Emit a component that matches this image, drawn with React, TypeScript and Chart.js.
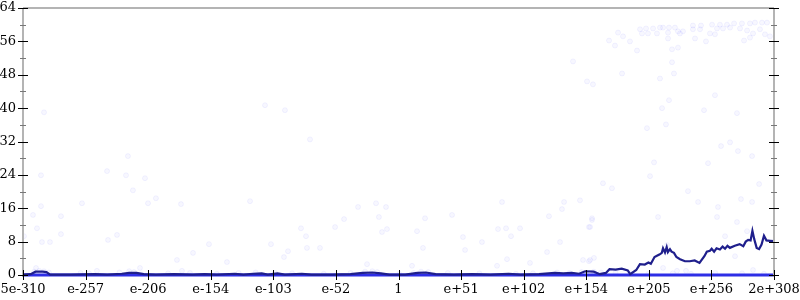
import React, { useEffect, useRef } from "react";
import { Chart, registerables } from "chart.js";

Chart.register(...registerables);

const xTickLabels = ["5e-310", "e-257", "e-206", "e-154", "e-103", "e-52", "1", "e+51", "e+102", "e+154", "e+205", "e+256", "2e+308"];
const X_MIN = -309.3;
const X_MAX = 308.25;
const Y_MIN = 0;
const Y_MAX = 64;

// navy running-average line (x = decimal exponent)
const navyX = [-309.3, -303, -299, -293, -290, -287, -270, -250, -240, -228, -222, -216, -210, -200, -185, -170, -160, -150, -135, -128, -120, -113, -108, -100, -94, -80, -72, -55, -40, -30, -22, -15, -8, 5, 15, 22, 30, 45, 60, 75, 90, 100, 115, 128, 135, 142, 148, 153, 160, 165, 170, 173, 178, 183, 188, 190, 195, 198, 202, 205, 207, 210, 212, 214, 216, 217, 218.6, 220, 221, 222.7, 224, 226, 228, 231, 235, 239, 243, 247, 251, 253, 255.6, 257, 259, 261, 263.8, 266, 268, 270, 272, 276, 280, 283, 285, 287, 289, 290.5, 292, 294, 296, 298, 300, 302, 305, 308.25];
const navyY = [0.1, 0.2, 0.8, 0.8, 0.7, 0.1, 0.1, 0.2, 0.1, 0.3, 0.5, 0.5, 0.2, 0.1, 0.2, 0.1, 0.2, 0.1, 0.3, 0.1, 0.3, 0.4, 0.1, 0.4, 0.1, 0.3, 0.1, 0.1, 0.2, 0.5, 0.6, 0.4, 0.1, 0.1, 0.5, 0.6, 0.2, 0.1, 0.2, 0.1, 0.3, 0.1, 0.2, 0.5, 0.4, 0.5, 0.3, 0.9, 0.8, 0.2, 0.5, 1.4, 1.3, 1.5, 1.1, 0.2, 1.2, 2.6, 2.5, 3.0, 2.7, 4.3, 4.6, 4.9, 5.3, 6.4, 5.4, 6.7, 5.5, 6.2, 5.6, 5.3, 4.3, 3.8, 3.3, 3.3, 3.5, 2.9, 4.5, 5.6, 5.8, 6.3, 5.6, 6.4, 6.1, 6.8, 6.3, 7.0, 6.5, 7.0, 7.4, 6.9, 8.0, 8.4, 8.3, 10.6, 8.6, 6.5, 6.2, 7.3, 9.4, 8.3, 8.2, 8.1];

// blue median line
const blueX = [X_MIN, X_MAX];
const blueY = [0, 0];

// faint individual samples
const sampleX = [180.0, 184.1, 172.6, 177.5, 189.8, 195.6, 198.1, 203.0, 208.8, 214.5, 217.0, 221.9, 226.8, 199.7, 204.6, 212.0, 221.1, 230.9, 229.3, 233.4, 221.1, 241.6, 248.2, 257.3, 263.8, 269.6, 275.4, 281.9, 288.5, 292.6, 298.4, 302.5, 241.6, 247.4, 261.4, 266.3, 272.1, 280.3, 286.1, 291.0, 296.7, 300.8, 304.9, 255.6, 259.7, 243.3, 252.3, 283.6, 288.5, 224.4, 229.3, 224.4, 183.3, 154.5, 159.4, 214.5, 226.0, 259.7, 221.9, 216.2, 250.7, 277.8, 203.8, 219.4, 264.7, 272.1, 143.0, -292.0, -110.3, -93.9, -73.3, 209.6, 254.0, 290.2, 278.6, 206.3, 167.6, 175.0, 237.5, 296.0, 245.8, 281.1, 290.2, 262.2, 212.9, 261.4, 158.6, 156.1, 277.8, 286.1, 268.0, 220.3, 157.0, 160.2, 151.2, 276.2, 217.0, 291.0, 228.5, 235.9, 148.7, -223.0, -240.2, -224.6, -209.0, -294.5, -218.9, -200.0, -206.5, -179.4, -260.8, -294.5, -301.1, -278.1, -297.8, -278.1, -308.5, -293.7, -287.1, -239.4, -232.0, -169.5, -182.7, -298.6, -248.5, -213.1, -178.6, -122.6, -33.8, -19.0, -10.8, -16.6, -45.3, -52.7, -80.7, -76.6, -14.1, -10.0, -156.4, -105.4, -91.4, -75.8, -65.1, -94.7, -141.6, -26.4, 84.6, 135.6, 133.9, 21.3, 123.2, 158.6, 14.7, 81.3, 87.9, 99.4, 92.0, 52.5, 157.0, 68.1, 132.3, 19.6, 54.2, 121.6, 88.7, 156.1, 107.6, 80.5, 10.6, 43.5, -300, -296, -292, -288, -262, -255, -230, -222, -218, -190, -172, -150, -132, -118, -102, -88, -62, -40, -28, -22, -18, 0, 12, 18, 24, 40, 66, 96, 110, 130, 140, 150, 160, 166, 178, 190, 205, 225, 240, 260, 282, 300];
const sampleY = [58.1, 57.2, 56.2, 55.0, 56.0, 53.8, 58.9, 59.1, 59.1, 59.3, 59.3, 59.3, 59.3, 57.9, 57.9, 57.9, 58.1, 57.9, 58.4, 58.4, 56.7, 59.8, 59.8, 60.0, 60.0, 60.0, 60.3, 60.3, 60.3, 60.5, 60.5, 60.5, 58.9, 58.9, 59.1, 59.1, 59.3, 59.1, 58.6, 57.9, 58.9, 57.7, 57.2, 57.9, 57.7, 56.7, 56.0, 56.2, 56.9, 54.1, 54.5, 51.0, 48.3, 46.4, 45.7, 47.1, 48.3, 43.1, 41.9, 40.0, 39.5, 38.8, 35.2, 36.1, 30.9, 31.8, 51.2, 39.0, 40.7, 39.5, 32.5, 27.0, 26.8, 28.5, 29.7, 23.7, 22.0, 20.8, 20.1, 21.8, 17.5, 18.2, 17.5, 16.3, 13.9, 13.9, 13.2, 11.5, 12.7, 10.5, 9.3, 7.2, 3.6, 4.1, 3.6, 4.5, 1.7, 1.2, 1.0, 1.0, 17.9, 28.5, 24.9, 23.9, 23.2, 23.9, 20.3, 18.4, 17.2, 17.0, 17.2, 16.5, 14.4, 14.1, 11.2, 9.8, 9.3, 7.9, 7.9, 8.4, 9.6, 5.3, 3.6, 1.7, 1.0, 1.7, 1.0, 17.7, 16.3, 17.2, 16.3, 13.9, 13.4, 11.5, 11.2, 9.3, 10.3, 11.0, 7.4, 7.4, 5.7, 6.5, 6.5, 4.3, 3.1, 2.6, 17.5, 17.5, 15.8, 13.6, 14.1, 13.6, 10.5, 11.0, 11.2, 11.2, 9.3, 9.1, 11.5, 7.9, 7.9, 6.5, 6.0, 5.5, 3.8, 3.3, 2.9, 2.2, 2.2, 14.4, 0.8, 1.0, 0.9, 0.6, 0.5, 0.4, 0.6, 0.9, 0.7, 0.4, 0.5, 0.3, 0.5, 0.6, 0.5, 0.4, 0.3, 0.5, 0.8, 0.9, 0.7, 0.3, 0.5, 0.8, 0.7, 0.5, 0.4, 0.3, 0.4, 0.6, 0.5, 0.7, 0.8, 0.6, 0.5, 0.4, 0.3, 0.4, 0.3, 0.5, 0.4, 0.3];

const FONT = "'DejaVu Serif', 'Liberation Serif', serif";

const axisPlugin = {
  id: "customAxes",
  afterDatasetsDraw(chart: any) {
    const { ctx, chartArea } = chart;
    const { left, right, top, bottom } = chartArea;
    const x = chart.scales.x;
    const y = chart.scales.y;
    ctx.save();
    ctx.strokeStyle = "#b4b4b4";
    ctx.lineWidth = 2;
    ctx.beginPath();
    ctx.moveTo(left, top);
    ctx.lineTo(right, top);
    ctx.moveTo(left, top);
    ctx.lineTo(left, bottom + 2);
    ctx.moveTo(right, top);
    ctx.lineTo(right, bottom + 2);
    ctx.stroke();

    ctx.lineWidth = 1;
    for (let v = Y_MIN; v <= Y_MAX; v += 8) {
      const py = Math.round(y.getPixelForValue(v)) + 0.5;
      ctx.strokeStyle = "#000";
      ctx.beginPath();
      ctx.moveTo(left - 5, py);
      ctx.lineTo(left + 5, py);
      ctx.moveTo(right - 5, py);
      ctx.lineTo(right + 5, py);
      ctx.stroke();
      if (v + 4 < Y_MAX) {
        const pm = Math.round(y.getPixelForValue(v + 4)) + 0.5;
        ctx.strokeStyle = "#777";
        ctx.beginPath();
        ctx.moveTo(left - 3, pm);
        ctx.lineTo(left + 3, pm);
        ctx.moveTo(right - 3, pm);
        ctx.lineTo(right + 3, pm);
        ctx.stroke();
      }
    }
    ctx.strokeStyle = "#000";
    x.ticks.forEach((t: any) => {
      const px = Math.round(x.getPixelForValue(t.value)) + 0.5;
      ctx.beginPath();
      ctx.moveTo(px, bottom - 5);
      ctx.lineTo(px, bottom + 5);
      ctx.stroke();
    });
    ctx.restore();
  },
};

export default function App() {
  const ref = useRef<HTMLCanvasElement | null>(null);
  useEffect(() => {
    if (!ref.current) return;
    const chart = new Chart(ref.current, {
      type: "scatter",
      data: {
        datasets: [
          {
            label: "navy",
            type: "line",
            data: navyX.map((v, i) => ({ x: v, y: navyY[i] })),
            borderColor: "#1f1f8c",
            borderWidth: 2.2,
            pointRadius: 0,
            tension: 0,
            clip: 4,
            order: 1,
          } as any,
          {
            label: "blue",
            type: "line",
            data: blueX.map((v, i) => ({ x: v, y: blueY[i] })),
            borderColor: "#2e2ee6",
            borderWidth: 3,
            pointRadius: 0,
            clip: 4,
            order: 2,
          } as any,
          {
            label: "samples",
            data: sampleX.map((v, i) => ({ x: v, y: sampleY[i] })),
            backgroundColor: "rgba(60,60,255,0.045)",
            borderColor: "rgba(60,60,255,0.06)",
            borderWidth: 1,
            pointRadius: 2.5,
            order: 3,
          } as any,
        ],
      },
      options: {
        animation: false,
        responsive: false,
        maintainAspectRatio: false,
        layout: { padding: { top: 8, right: 26, left: 0, bottom: 0 } },
        plugins: { legend: { display: false }, tooltip: { enabled: false } },
        scales: {
          x: {
            type: "linear",
            min: X_MIN,
            max: X_MAX,
            afterBuildTicks(scale: any) {
              const n = xTickLabels.length - 1;
              scale.ticks = xTickLabels.map((_, i) => ({ value: X_MIN + (i * (X_MAX - X_MIN)) / n }));
            },
            afterFit(scale: any) {
              scale.height = 25;
              scale.paddingLeft = 0;
              scale.paddingRight = 0;
            },
            ticks: {
              autoSkip: false,
              maxRotation: 0,
              padding: 7,
              color: "#000",
              font: { family: FONT, size: 13 },
              callback: (_v: any, i: number) => xTickLabels[i],
            },
            grid: { display: true, drawOnChartArea: false, drawTicks: false, color: "rgba(0,0,0,0)" },
            border: { display: false },
          },
          y: {
            type: "linear",
            min: Y_MIN,
            max: Y_MAX,
            afterFit(scale: any) {
              scale.width = 23;
              scale.paddingTop = 0;
              scale.paddingBottom = 0;
            },
            ticks: {
              stepSize: 8,
              padding: 7,
              color: "#000",
              font: { family: FONT, size: 13 },
            },
            grid: { display: true, drawOnChartArea: false, drawTicks: false, color: "rgba(0,0,0,0)" },
            border: { display: false },
          },
        },
      },
      plugins: [axisPlugin],
    });
    return () => chart.destroy();
  }, []);
  return (
    <div style={{ position: "fixed", left: 0, top: 0, width: 800, height: 300, background: "#fff" }}>
      <canvas ref={ref} width={800} height={300} />
    </div>
  );
}
